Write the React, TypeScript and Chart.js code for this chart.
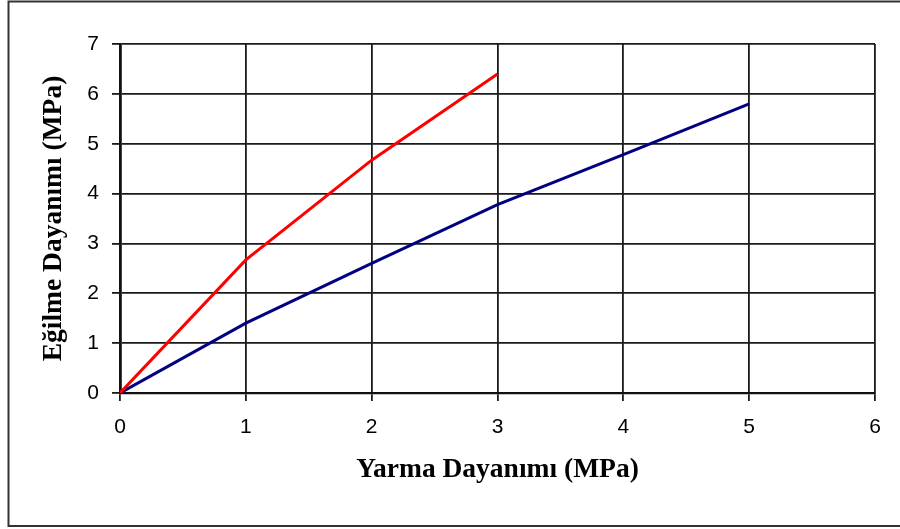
import React, { useEffect, useRef } from "react";
import { Chart, registerables } from "chart.js";

Chart.register(...registerables);

const xTitle = "Yarma Dayanımı (MPa)";
const yTitle = "Eğilme Dayanımı (MPa)";
const redX = [0, 1, 2, 3];
const redY = [0, 2.67, 4.67, 6.4];
const blueX = [0, 1, 2, 3, 4, 5];
const blueY = [0, 1.4, 2.6, 3.78, 4.78, 5.8];

const frame = {
  id: "frame",
  afterDraw(chart: any) {
    const ctx = chart.ctx;
    ctx.save();
    ctx.strokeStyle = "#333";
    ctx.lineWidth = 2;
    ctx.strokeRect(8.5, 1.5, 900, 524.5);
    ctx.restore();
  },
};

export default function App() {
  const ref = useRef<HTMLCanvasElement | null>(null);
  useEffect(() => {
    if (!ref.current) return;
    const chart = new Chart(ref.current, {
      type: "scatter",
      data: {
        datasets: [
          {
            data: redX.map((x, i) => ({ x, y: redY[i] })),
            borderColor: "#ff0000",
            backgroundColor: "#ff0000",
            borderWidth: 3,
            showLine: true,
            pointRadius: 0,
          },
          {
            data: blueX.map((x, i) => ({ x, y: blueY[i] })),
            borderColor: "#000080",
            backgroundColor: "#000080",
            borderWidth: 3,
            showLine: true,
            pointRadius: 0,
          },
        ],
      },
      options: {
        responsive: false,
        animation: false,
        layout: { padding: { left: 0, right: 25, top: 44, bottom: 0 } },
        plugins: { legend: { display: false }, tooltip: { enabled: false } },
        scales: {
          x: {
            type: "linear",
            min: 0,
            max: 6,
            afterFit: (s: any) => {
              s.height = 136;
            },
            ticks: {
              stepSize: 1,
              color: "#000",
              padding: 14,
              font: { family: "Liberation Sans", size: 21 },
            },
            grid: {
              color: "#1a1a1a",
              lineWidth: 1.8,
              drawTicks: true,
              tickLength: 8,
              tickColor: "#1a1a1a",
            },
            border: { color: "#111", width: 2.2 },
            title: {
              display: true,
              text: xTitle,
              color: "#000",
              font: { family: "Liberation Serif", size: 27.5, weight: "bold" },
              padding: { top: 0, bottom: 43 },
            },
          },
          y: {
            type: "linear",
            min: 0,
            max: 7,
            afterFit: (s: any) => {
              s.width = 120;
            },
            ticks: {
              stepSize: 1,
              color: "#000",
              padding: 13,
              font: { family: "Liberation Sans", size: 21 },
            },
            grid: {
              color: "#1a1a1a",
              lineWidth: 1.8,
              drawTicks: true,
              tickLength: 8,
              tickColor: "#1a1a1a",
            },
            border: { color: "#111", width: 2.8 },
            title: {
              display: true,
              text: yTitle,
              color: "#000",
              font: { family: "Liberation Serif", size: 27.5, weight: "bold" },
              padding: { top: 37, bottom: 0 },
            },
          },
        },
      },
      plugins: [frame],
    });
    return () => chart.destroy();
  }, []);
  return (
    <div style={{ position: "absolute", left: 0, top: 0, width: 900, height: 529, background: "#fff" }}>
      <canvas ref={ref} width={900} height={529} style={{ display: "block" }} />
    </div>
  );
}
